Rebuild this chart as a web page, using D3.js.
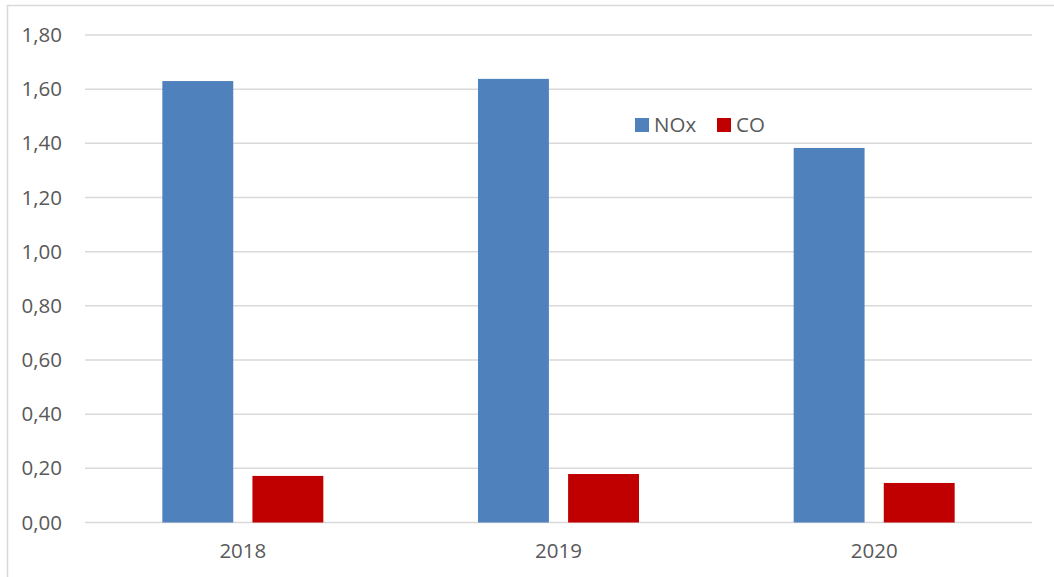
<!DOCTYPE html>
<html>
<head>
<meta charset="utf-8">
<script src="https://cdn.jsdelivr.net/npm/d3@7"></script>
<style>
    body { margin: 0; background: #fff; }
    svg text { font-family: "Open Sans", "Noto Sans", sans-serif; fill: #595959; }
</style>
</head>
<body>
<div id="chartArea"></div>
<script>
// Data
let years = ['2018', '2019', '2020'];
let seriesNames = ['NOx', 'CO'];
let noxValues = [1.63, 1.638, 1.383];
let coValues = [0.172, 0.179, 0.146];
let yTicks = [0, 0.2, 0.4, 0.6, 0.8, 1.0, 1.2, 1.4, 1.6, 1.8];
let colors = ['#4f81bd', '#c00000'];

function drawGraph() {
    let width = 1054, height = 577;

    let margins = { top: 35, right: 22, bottom: 54.5, left: 85 };

    let plotWidth = width - margins.left - margins.right,
        plotHeight = height - margins.top - margins.bottom;

    let svg = d3.select('#chartArea')
        .append('svg')
            .attr('width', width)
            .attr('height', height);

    // outer chart frame (runs off the right and bottom edge)
    svg.append('rect')
        .attr('x', 7.5)
        .attr('y', 5.5)
        .attr('width', width + 10)
        .attr('height', height + 10)
        .attr('fill', 'none')
        .attr('stroke', '#d9d9d9')
        .attr('stroke-width', 1.5);

    let chart = svg.append('g')
        .attr('transform', 'translate(' + margins.left + ',' + margins.top + ')');

    let x0 = d3.scaleBand()
        .domain(years)
        .range([0, plotWidth])
        .paddingInner(0.49)
        .paddingOuter(0.245);

    let x1 = d3.scaleBand()
        .domain(seriesNames)
        .range([0, x0.bandwidth()])
        .paddingInner(0.213);

    let yScale = d3.scaleLinear()
        .domain([0, 1.8])
        .range([plotHeight, 0]);

    // gridlines
    chart.append('g')
        .selectAll('line')
        .data(yTicks)
        .join('line')
            .attr('x1', 0)
            .attr('x2', plotWidth)
            .attr('y1', d => yScale(d))
            .attr('y2', d => yScale(d))
            .attr('stroke', '#d9d9d9')
            .attr('stroke-width', 1.5);

    // y axis labels
    let yAxis = chart.append('g')
        .call(d3.axisLeft(yScale)
            .tickValues(yTicks)
            .tickSize(0)
            .tickPadding(23)
            .tickFormat(d => d3.format('.2f')(d).replace('.', ',')));
    yAxis.select('.domain').remove();
    yAxis.selectAll('text')
        .style('font-size', '20.5px')
        .attr('fill', '#595959');

    // bars
    let series = [noxValues, coValues];
    let groups = chart.append('g')
        .selectAll('g')
        .data(years)
        .join('g')
            .attr('transform', d => 'translate(' + x0(d) + ',0)');

    groups.selectAll('rect')
        .data((d, i) => seriesNames.map((s, j) => ({ key: s, value: series[j][i], idx: j })))
        .join('rect')
            .attr('x', d => x1(d.key))
            .attr('width', x1.bandwidth())
            .attr('y', d => yScale(d.value))
            .attr('height', d => yScale(0) - yScale(d.value))
            .attr('fill', d => colors[d.idx]);

    // x axis labels
    let xAxis = chart.append('g')
        .attr('transform', 'translate(0,' + plotHeight + ')')
        .call(d3.axisBottom(x0).tickSize(0).tickPadding(21));
    xAxis.select('.domain').remove();
    xAxis.selectAll('text')
        .style('font-size', '20.5px')
        .attr('fill', '#595959');

    // legend
    let legendX = [635, 717];
    let legend = svg.append('g')
        .selectAll('g')
        .data(seriesNames)
        .join('g')
            .attr('transform', (d, i) => 'translate(' + legendX[i] + ',118)');

    legend.append('rect')
        .attr('width', 14)
        .attr('height', 14)
        .attr('fill', (d, i) => colors[i]);

    legend.append('text')
        .attr('x', 19)
        .attr('y', 7)
        .attr('dy', '0.35em')
        .style('font-size', '20.5px')
        .text(d => d);
}

drawGraph();
</script>
</body>
</html>
